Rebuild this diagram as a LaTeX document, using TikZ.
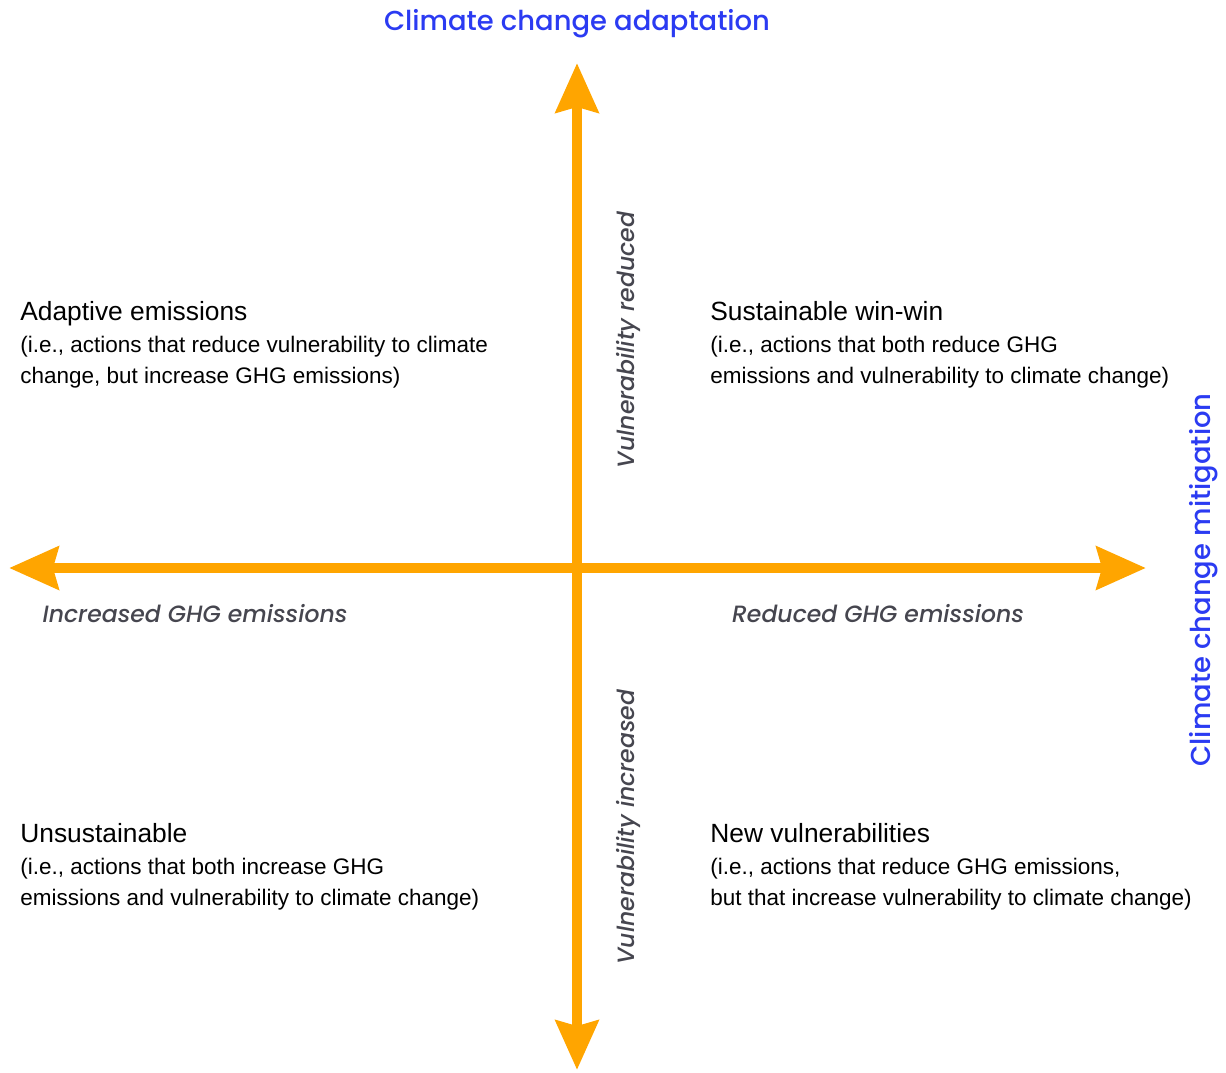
\documentclass[tikz,border=0pt]{standalone}
\usepackage{fontspec}
\setmainfont{Liberation Sans}
\newfontfamily\geofont{Poppins Medium}
\newfontfamily\geoitfont{Poppins Medium Italic}
\usepackage{tikz}
\usetikzlibrary{arrows.meta}
\usetikzlibrary{positioning}
\definecolor{axisorange}{HTML}{FFA500}
\definecolor{goalblue}{HTML}{2B3BF2}
\definecolor{labelgray}{HTML}{46464F}

\begin{document}
\begin{tikzpicture}[
    x=0.02cm, y=-0.02cm,
    axis/.style={draw=axisorange, line width=6pt,
      {Stealth[length=28pt,width=24pt,inset=3pt]}-{Stealth[length=28pt,width=24pt,inset=3pt]}},
    goal/.style={text=goalblue, inner sep=0pt, font=\geofont\fontsize{15.6}{18}\selectfont},
    axislabel/.style={text=labelgray, inner sep=0pt, font=\geoitfont\fontsize{13.4}{15}\selectfont},
    quadtitle/.style={anchor=base west, inner sep=0pt, text depth=3.2pt, font=\fontsize{15}{18}\selectfont},
    quadtext/.style={align=left, inner sep=0pt, font=\fontsize{12.8}{18.1}\selectfont}
]
\useasboundingbox (0,0) rectangle (1226,1072);

% axes
\coordinate (N) at (577,63);
\coordinate (S) at (577,1070);
\coordinate (W) at (9,568);
\coordinate (E) at (1146,568);
\draw[axis] (S) -- (N);
\draw[axis] (W) -- (E);

% goals
\node[goal] (adapt) at (577,24) {Climate change adaptation};
\node[goal, rotate=90] (mitig) at (1204,580) {Climate change mitigation};

% axis labels
\node[axislabel, rotate=90] (vred) at (628,340) {Vulnerability reduced};
\node[axislabel, rotate=90] (vinc) at (628,827) {Vulnerability increased};
\node[axislabel] (ghginc) at (195,614) {Increased GHG emissions};
\node[axislabel] (ghgred) at (878,614) {Reduced GHG emissions};

% quadrants
\node[quadtitle] (aeT) at (20,320) {Adaptive emissions};
\node[quadtext, below right=5.4pt and 0pt of aeT.south west] (aeD)
  {(i.e., actions that reduce vulnerability to climate\\change, but increase GHG emissions)};

\node[quadtitle] (swT) at (710,320) {Sustainable win-win};
\node[quadtext, below right=5.4pt and 0pt of swT.south west] (swD)
  {(i.e., actions that both reduce GHG\\emissions and vulnerability to climate change)};

\node[quadtitle] (unT) at (20,842) {Unsustainable};
\node[quadtext, below right=5.4pt and 0pt of unT.south west] (unD)
  {(i.e., actions that both increase GHG\\emissions and vulnerability to climate change)};

\node[quadtitle] (nvT) at (710,842) {New vulnerabilities};
\node[quadtext, below right=5.4pt and 0pt of nvT.south west] (nvD)
  {(i.e., actions that reduce GHG emissions,\\but that increase vulnerability to climate change)};
\end{tikzpicture}
\end{document}
